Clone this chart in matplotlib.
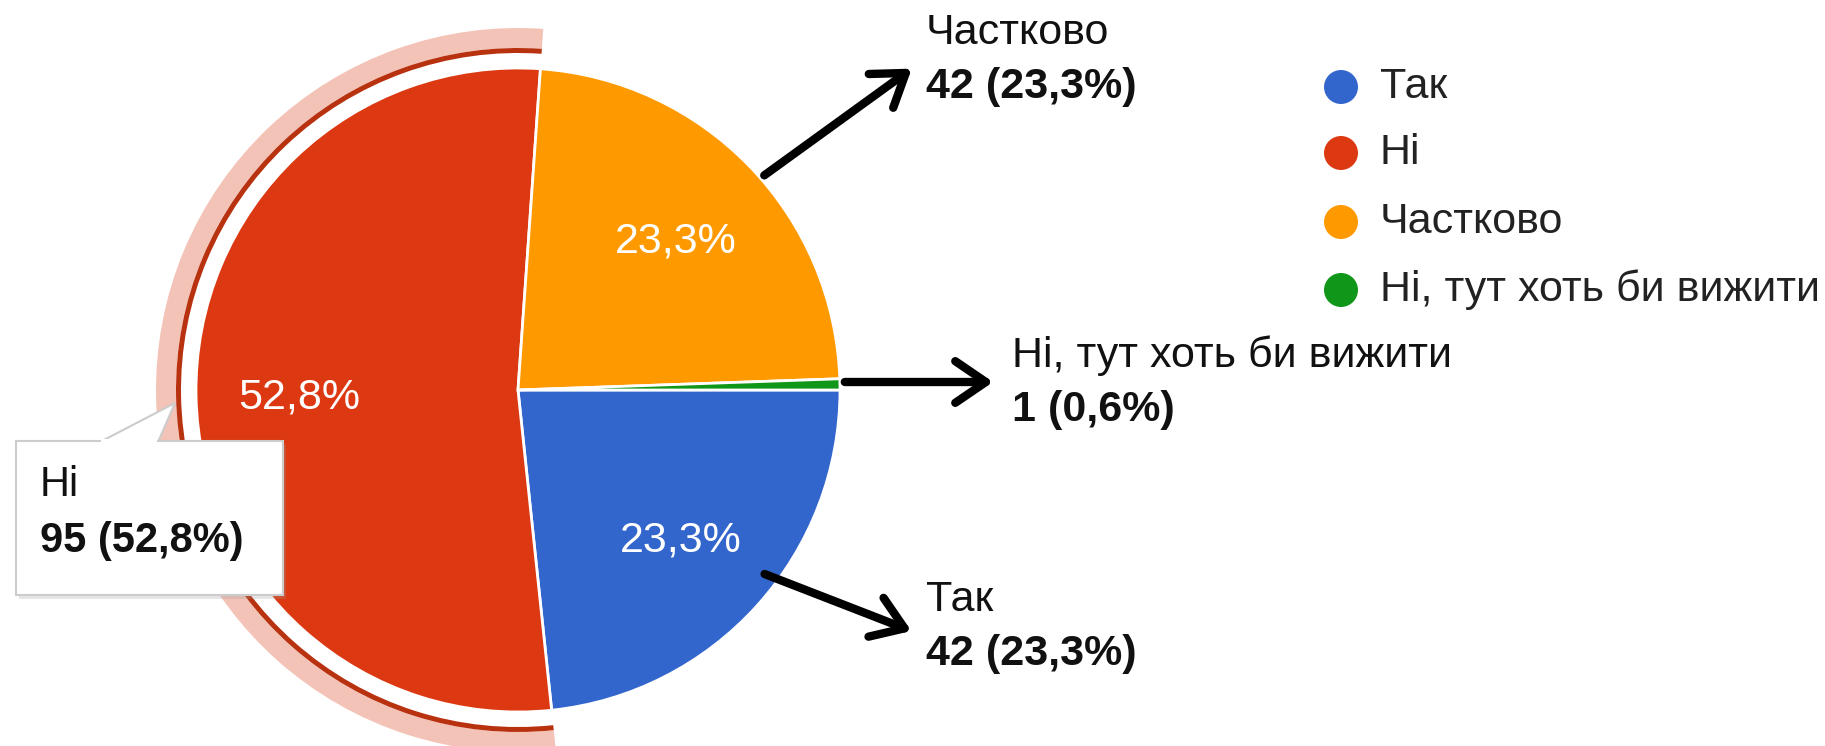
import matplotlib
matplotlib.use("Agg")
import matplotlib.pyplot as plt
from matplotlib.patches import Wedge, Rectangle, Polygon, Circle, FancyArrowPatch

plt.rcParams['font.family'] = ['Liberation Sans', 'DejaVu Sans']

# data
labels = ['Так', 'Ні', 'Частково', 'Ні, тут хоть би вижити']
counts = [42, 95, 42, 1]
colors = ['#3366cc', '#dc3912', '#ff9900', '#109618']

total = sum(counts)
pcts = [c * 100.0 / total for c in counts]


def fmt(p):
    return ('%.1f%%' % p).replace('.', ',')


W, H = 1825, 746
fig = plt.figure(figsize=(W / 100, H / 100), dpi=100)
ax = fig.add_axes([0, 0, 1, 1])

cx, cy, R = 518, 356, 322

wedges, texts, autotexts = ax.pie(
    counts, colors=colors, startangle=0, counterclock=False,
    center=(cx, cy), radius=R,
    autopct=lambda p: fmt(p) if p > 1 else '', pctdistance=0.68,
    wedgeprops=dict(edgecolor='white', linewidth=2),
    textprops=dict(color='white', fontsize=31))
for t in autotexts:
    x, y = t.get_position()
    t.set_position((x, y - 4))

# highlight ring around "Ні"
hi = wedges[1]
ax.add_patch(Wedge((cx, cy), 362, hi.theta1, hi.theta2, width=20,
                   facecolor='#dc3912', alpha=0.3, edgecolor='none'))
ax.add_patch(Wedge((cx, cy), 342, hi.theta1, hi.theta2, width=5,
                   facecolor='#b8320f', edgecolor='none'))

ax.set_xlim(0, W)
ax.set_ylim(0, H)
ax.set_aspect('auto')
ax.axis('off')

# outside labels with arrows
arrows = {
    2: ((762, 569), (914, 679), (926, 713)),
    3: ((842, 364), (996, 364), (1012, 390)),
    0: ((762, 173), (914, 114), (926, 146)),
}
for i, (p0, p1, tp) in arrows.items():
    ax.add_patch(FancyArrowPatch(p0, p1, arrowstyle='->,head_length=1.1,head_width=0.75',
                                 color='black', lw=6, capstyle='round',
                                 joinstyle='round', mutation_scale=20))
    ax.text(tp[0], tp[1], labels[i], fontsize=31, color='#111111',
            ha='left', va='center')
    ax.text(tp[0], tp[1] - 54, '%d (%s)' % (counts[i], fmt(pcts[i])),
            fontsize=31, fontweight='bold', color='#111111',
            ha='left', va='center')

# tooltip for "Ні"
bx0, by0, bx1, by1 = 16, 151, 283, 305
ax.add_patch(Rectangle((bx0 + 3, by0 - 4), bx1 - bx0, by1 - by0,
                       facecolor='#999999', alpha=0.25, edgecolor='none'))
ax.add_patch(Polygon([(100, by1 - 1), (175, 343), (158, by1 - 1)], closed=True,
                     facecolor='white', edgecolor='#cccccc', lw=1.5))
ax.add_patch(Rectangle((bx0, by0), bx1 - bx0, by1 - by0,
                       facecolor='white', edgecolor='#cccccc', lw=1.5))
ax.add_patch(Rectangle((101, by1 - 3), 56, 5, facecolor='white', edgecolor='none'))
ax.text(40, 261, labels[1], fontsize=30, color='#111111', ha='left', va='center')
ax.text(40, 205, '%d (%s)' % (counts[1], fmt(pcts[1])), fontsize=30,
        fontweight='bold', color='#111111', ha='left', va='center')

# legend
ly = [659, 593, 524, 456]
for lab, col, y in zip(labels, colors, ly):
    ax.add_patch(Circle((1341, y), 17, facecolor=col, edgecolor='none'))
    ax.text(1380, y, lab, fontsize=31, color='#222222', ha='left', va='center')

plt.savefig('out.png', dpi=100)
